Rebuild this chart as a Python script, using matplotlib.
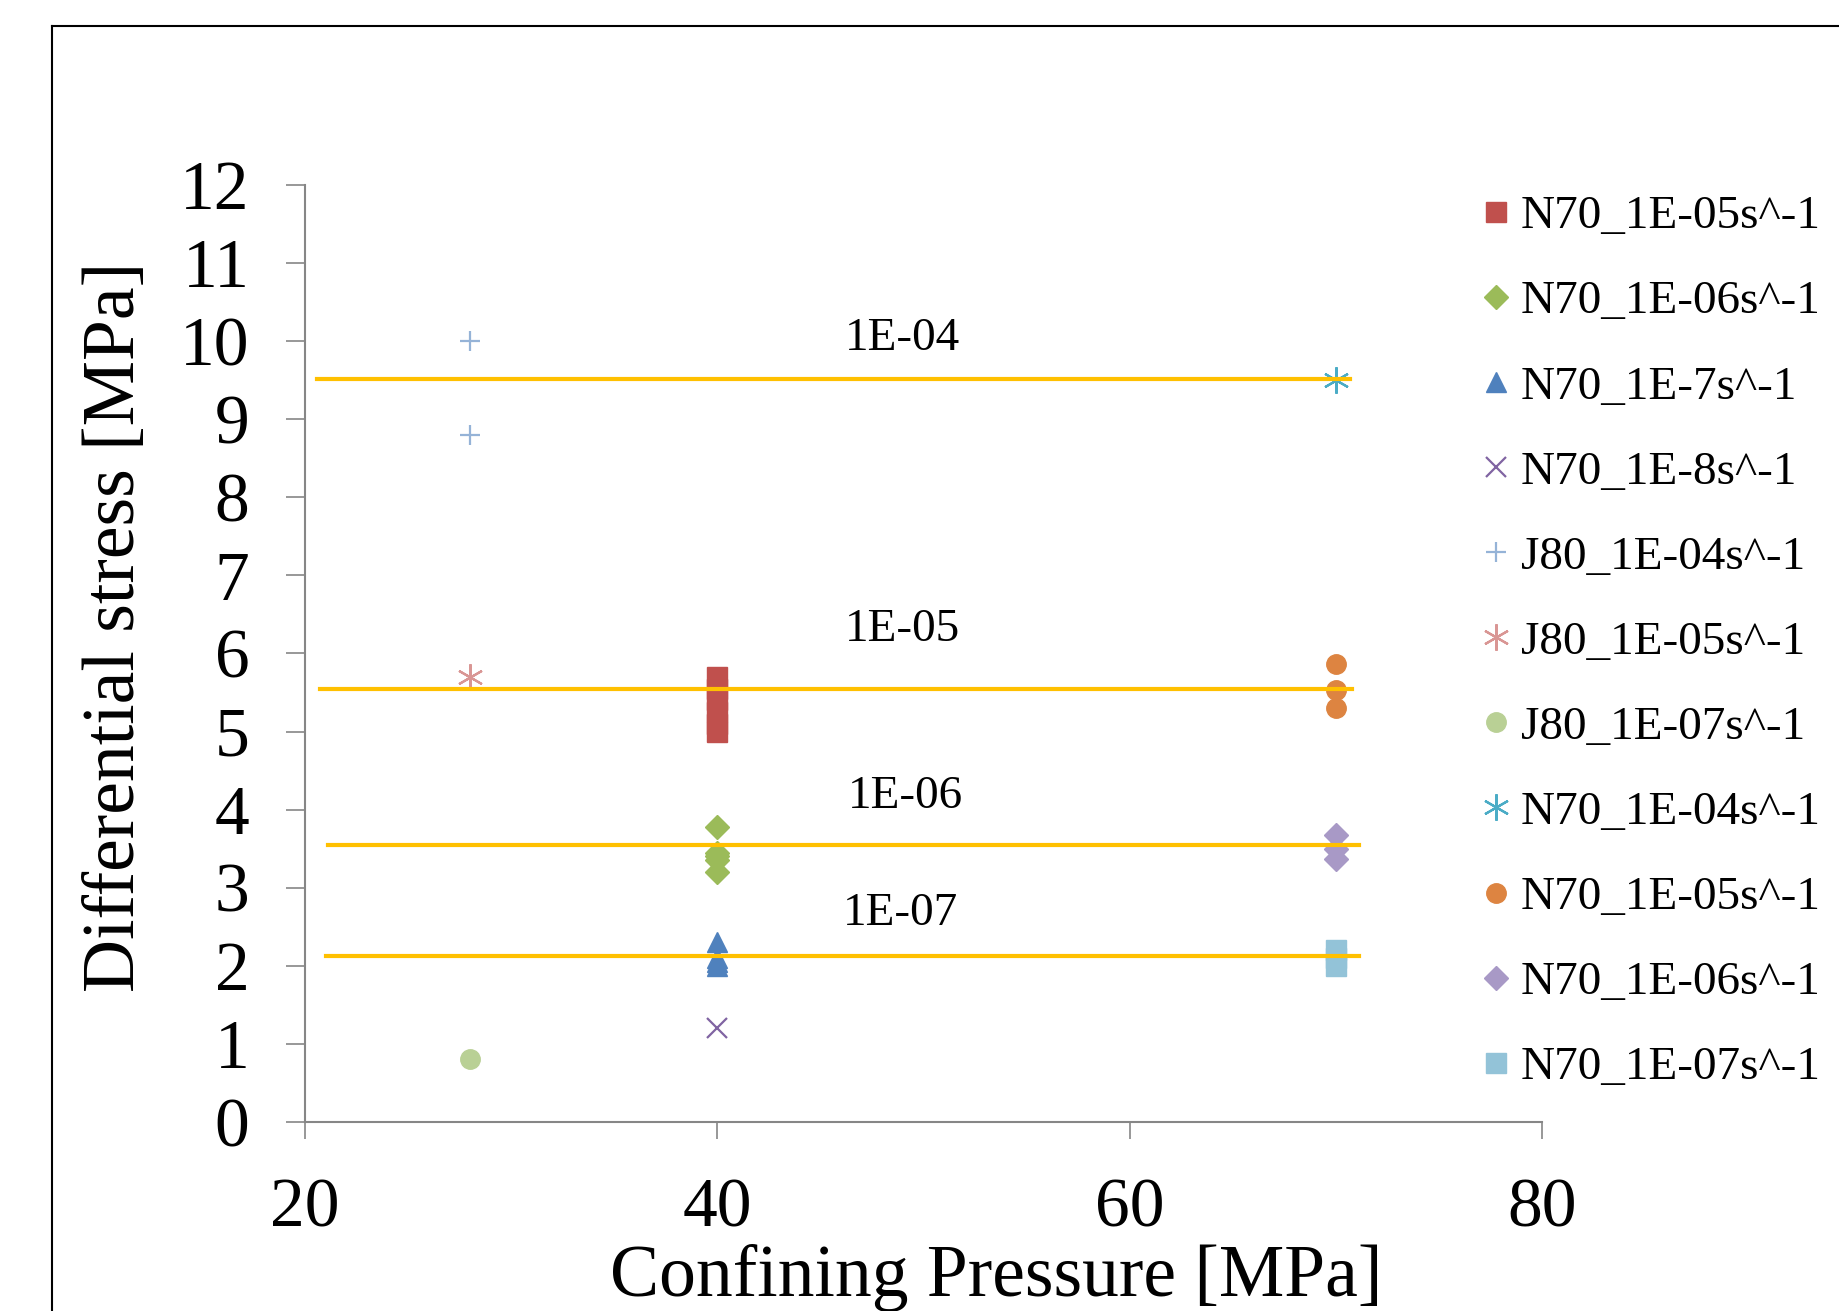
import matplotlib
matplotlib.use("Agg")
import matplotlib.pyplot as plt
from matplotlib.lines import Line2D

plt.rcParams['font.family'] = ['Liberation Serif', 'DejaVu Serif']

# series: (label, x, y, marker, color, filled)
labels = ["N70_1E-05s^-1", "N70_1E-06s^-1", "N70_1E-7s^-1", "N70_1E-8s^-1",
          "J80_1E-04s^-1", "J80_1E-05s^-1", "J80_1E-07s^-1", "N70_1E-04s^-1",
          "N70_1E-05s^-1", "N70_1E-06s^-1", "N70_1E-07s^-1"]
pressures = [40, 40, 40, 40, 28, 28, 28, 70, 70, 70, 70]
stresses = [
    [5.0, 5.1, 5.25, 5.4, 5.55, 5.7],
    [3.2, 3.35, 3.4, 3.45, 3.78],
    [2.0, 2.05, 2.1, 2.3],
    [1.2],
    [10.0, 8.8],
    [5.7],
    [0.8],
    [9.5],
    [5.3, 5.53, 5.87],
    [3.37, 3.5, 3.68],
    [2.0, 2.1, 2.2],
]
markers = ['s', 'D', '^', 'x', '+', (6, 2, 0), 'o', (6, 2, 0), 'o', 'D', 's']
colors = ['#C0504D', '#9BBB59', '#4F81BD', '#8064A2', '#95B3D7', '#D99694',
          '#B9D095', '#4BACC6', '#DD8441', '#A899C6', '#93C3D8']

# strain rate level lines
rate_names = ["1E-04", "1E-05", "1E-06", "1E-07"]
rate_levels = [9.52, 5.54, 3.55, 2.13]
rate_x0 = [20.6, 20.7, 21.1, 21.0]
rate_x1 = [70.7, 70.8, 71.1, 71.1]
rate_label_x = [49.0, 49.0, 49.1, 48.9]
rate_label_y = [10.03, 6.3, 4.17, 2.67]

fig = plt.figure(figsize=(18.4, 13.11), dpi=100)
ax = fig.add_axes([0.1658, 0.1442, 0.6723, 0.7147])

for lab, px, ys, m, c in zip(labels, pressures, stresses, markers, colors):
    xs = [px] * len(ys)
    if isinstance(m, tuple):
        ax.plot(xs, ys, linestyle='none', marker=m, markersize=19,
                markeredgewidth=1.6, color=c, label=lab, zorder=3)
    elif m in ('x', '+'):
        ax.plot(xs, ys, linestyle='none', marker=m, markersize=14,
                markeredgewidth=1.6, color=c, label=lab, zorder=3)
    else:
        ms = 12 if m == 'D' else 14
        ax.plot(xs, ys, linestyle='none', marker=m, markersize=ms,
                color=c, markeredgecolor=c, label=lab, zorder=3)

for name, lv, x0, x1, lx, ly in zip(rate_names, rate_levels, rate_x0, rate_x1,
                                    rate_label_x, rate_label_y):
    ax.plot([x0, x1], [lv, lv], color='#FFC000', linewidth=3, zorder=4)
    ax.text(lx, ly, name, ha='center', va='center', fontsize=34)

ax.set_xlim(20, 80)
ax.set_ylim(0, 12)
ax.set_xticks([20, 40, 60, 80])
ax.set_yticks(range(0, 13))
for s in ['top', 'right']:
    ax.spines[s].set_visible(False)
for s in ['left', 'bottom']:
    ax.spines[s].set_color('#868686')
    ax.spines[s].set_linewidth(1.5)
ax.tick_params(axis='y', direction='out', length=14, width=1.2,
               color='#868686', labelsize=50, pad=26)
ax.tick_params(axis='x', direction='out', length=12, width=1.2,
               color='#868686', labelsize=50, pad=28)

ax.set_xlabel("Confining Pressure [MPa]", fontsize=53)
ax.xaxis.set_label_coords(0.559, -0.13)
ax.set_ylabel("Differential stress [MPa]", fontsize=53)
ax.yaxis.set_label_coords(-0.125, 0.528)

ax.legend(loc='upper left', bbox_to_anchor=(0.8054, 0.851),
          bbox_transform=fig.transFigure, frameon=False, fontsize=34,
          handlelength=0.6, handletextpad=0.22, labelspacing=0.89,
          borderpad=0, borderaxespad=0)

# outer chart frame
fig.add_artist(Line2D([0.0283, 0.0283], [0, 0.980], color='black',
                      linewidth=1.5, transform=fig.transFigure))
fig.add_artist(Line2D([0.0283, 1.0], [0.980, 0.980], color='black',
                      linewidth=1.5, transform=fig.transFigure))

fig.savefig("out.png", dpi=100)
